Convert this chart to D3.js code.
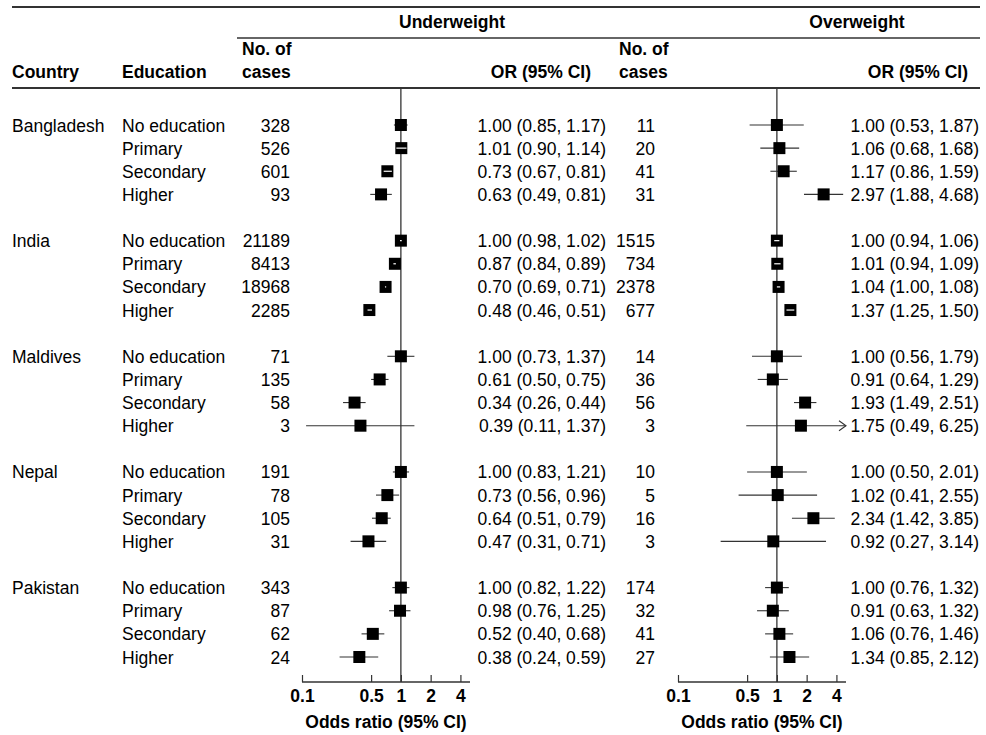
<!DOCTYPE html>
<html>
<head>
<meta charset="utf-8">
<script src="https://cdn.jsdelivr.net/npm/d3@7/dist/d3.min.js"></script>
<style>
  html, body { margin: 0; padding: 0; background: #fff; }
  svg text { font-family: "Liberation Sans", Arial, sans-serif; fill: #000; }
</style>
</head>
<body>
<svg id="chart" width="986" height="735"></svg>
<script>
// Forest plot: odds of underweight / overweight by education level, per country
const countries = ["Bangladesh", "India", "Maldives", "Nepal", "Pakistan"];
const educations = ["No education", "Primary", "Secondary", "Higher"];

// Underweight (rows ordered country by country, education within country)
const uwCases = [328, 526, 601, 93, 21189, 8413, 18968, 2285, 71, 135, 58, 3, 191, 78, 105, 31, 343, 87, 62, 24];
const uwOR    = [1.00, 1.01, 0.73, 0.63, 1.00, 0.87, 0.70, 0.48, 1.00, 0.61, 0.34, 0.39, 1.00, 0.73, 0.64, 0.47, 1.00, 0.98, 0.52, 0.38];
const uwLo    = [0.85, 0.90, 0.67, 0.49, 0.98, 0.84, 0.69, 0.46, 0.73, 0.50, 0.26, 0.11, 0.83, 0.56, 0.51, 0.31, 0.82, 0.76, 0.40, 0.24];
const uwHi    = [1.17, 1.14, 0.81, 0.81, 1.02, 0.89, 0.71, 0.51, 1.37, 0.75, 0.44, 1.37, 1.21, 0.96, 0.79, 0.71, 1.22, 1.25, 0.68, 0.59];

// Overweight
const owCases = [11, 20, 41, 31, 1515, 734, 2378, 677, 14, 36, 56, 3, 10, 5, 16, 3, 174, 32, 41, 27];
const owOR    = [1.00, 1.06, 1.17, 2.97, 1.00, 1.01, 1.04, 1.37, 1.00, 0.91, 1.93, 1.75, 1.00, 1.02, 2.34, 0.92, 1.00, 0.91, 1.06, 1.34];
const owLo    = [0.53, 0.68, 0.86, 1.88, 0.94, 0.94, 1.00, 1.25, 0.56, 0.64, 1.49, 0.49, 0.50, 0.41, 1.42, 0.27, 0.76, 0.63, 0.76, 0.85];
const owHi    = [1.87, 1.68, 1.59, 4.68, 1.06, 1.09, 1.08, 1.50, 1.79, 1.29, 2.51, 6.25, 2.01, 2.55, 3.85, 3.14, 1.32, 1.32, 1.46, 2.12];

const axisTicks = [0.1, 0.5, 1, 2, 4];
const axisDomain = [0.1, 5];

const svg = d3.select("#chart");
const FS = 17.5;
const lineCol = "#333";
const fmt = d3.format(".2f");

// Row positions: four education rows per country, one blank row between countries
const rows = [];
countries.forEach((c, ci) => educations.forEach((e, ei) => {
  rows.push({ country: c, edu: e, first: ei === 0, slot: ci * 5 + ei });
}));
rows.forEach((r, i) => {
  r.uw = { n: uwCases[i], or: uwOR[i], lo: uwLo[i], hi: uwHi[i] };
  r.ow = { n: owCases[i], or: owOR[i], lo: owLo[i], hi: owHi[i] };
});
const y = d3.scaleLinear().domain([0, 23]).range([125, 657]);

const xUW = d3.scaleLog().domain(axisDomain).range([302, 470]);
const xOW = d3.scaleLog().domain(axisDomain).range([678, 846]);

// Header rules
const hline = (x1, x2, yy, w) => svg.append("line")
  .attr("x1", x1).attr("x2", x2).attr("y1", yy).attr("y2", yy)
  .attr("stroke", lineCol).attr("stroke-width", w);
hline(12, 980, 7, 2);
hline(237, 980, 38, 1.5);
hline(12, 980, 88, 2);

const txt = (x, yy, s, anchor, bold) => svg.append("text")
  .attr("x", x).attr("y", yy).attr("text-anchor", anchor || "start")
  .attr("font-size", FS).attr("font-weight", bold ? "bold" : "normal").text(s);

// Column headings
txt(452, 28, "Underweight", "middle", true);
txt(857, 28, "Overweight", "middle", true);
txt(12, 78, "Country", "start", true);
txt(122, 78, "Education", "start", true);
txt(242, 55, "No. of", "start", true);
txt(242, 78, "cases", "start", true);
txt(591, 78, "OR (95% CI)", "end", true);
txt(619, 55, "No. of", "start", true);
txt(619, 78, "cases", "start", true);
txt(968, 78, "OR (95% CI)", "end", true);

// Row labels and numbers
rows.forEach(r => {
  const yy = y(r.slot) + 6.5;
  if (r.first) txt(12, yy, r.country);
  txt(122, yy, r.edu);
  txt(290, yy, String(r.uw.n), "end");
  txt(606, yy, `${fmt(r.uw.or)} (${fmt(r.uw.lo)}, ${fmt(r.uw.hi)})`, "end");
  txt(655, yy, String(r.ow.n), "end");
  txt(979, yy, `${fmt(r.ow.or)} (${fmt(r.ow.lo)}, ${fmt(r.ow.hi)})`, "end");
});

const axisY = 682;

function panel(x, key) {
  const g = svg.append("g");
  // reference line at OR = 1
  g.append("line").attr("x1", x(1)).attr("x2", x(1))
    .attr("y1", 88).attr("y2", axisY)
    .attr("stroke", lineCol).attr("stroke-width", 1.3);

  const box = 12;
  const xmax = x.domain()[1];
  rows.forEach(r => {
    const d = r[key];
    const cy = y(r.slot);
    const cx = x(d.or);
    const over = d.hi > xmax;
    const x1 = x(d.lo), x2 = x(Math.min(d.hi, xmax));
    const inside = x1 >= cx - box / 2 && x2 <= cx + box / 2;
    if (!inside) {
      g.append("line").attr("x1", x1).attr("x2", x2)
        .attr("y1", cy).attr("y2", cy)
        .attr("stroke", lineCol).attr("stroke-width", 1.1);
      if (over) {
        g.append("path")
          .attr("d", `M${x2 - 7},${cy - 5}L${x2},${cy}L${x2 - 7},${cy + 5}`)
          .attr("fill", "none").attr("stroke", lineCol).attr("stroke-width", 1.1);
      }
    }
    g.append("rect").attr("x", cx - box / 2).attr("y", cy - box / 2)
      .attr("width", box).attr("height", box).attr("fill", "#000");
    if (inside) {
      g.append("line").attr("x1", x1).attr("x2", x2)
        .attr("y1", cy).attr("y2", cy)
        .attr("stroke", "#fff").attr("stroke-width", 1.2);
    }
  });

  // x axis with ticks pointing up
  const ax = g.append("g").attr("transform", `translate(0,${axisY})`)
    .call(d3.axisBottom(x).tickValues(axisTicks).tickSize(-7).tickPadding(8)
      .tickFormat(d => String(d)));
  ax.select(".domain").attr("d", `M${x.range()[0]},0H${x.range()[1]}`)
    .attr("stroke", lineCol).attr("stroke-width", 1.3);
  ax.selectAll(".tick line").attr("stroke", lineCol).attr("stroke-width", 1.2);
  ax.selectAll(".tick text")
    .attr("font-size", FS).attr("font-weight", "bold").attr("fill", "#000")
    .attr("font-family", "Liberation Sans, Arial, sans-serif")
    .attr("dy", "0.71em").attr("y", 8);

  const mid = (x.range()[0] + x.range()[1]) / 2;
  txt(mid, 728, "Odds ratio (95% CI)", "middle", true);
}

panel(xUW, "uw");
panel(xOW, "ow");
</script>
</body>
</html>
